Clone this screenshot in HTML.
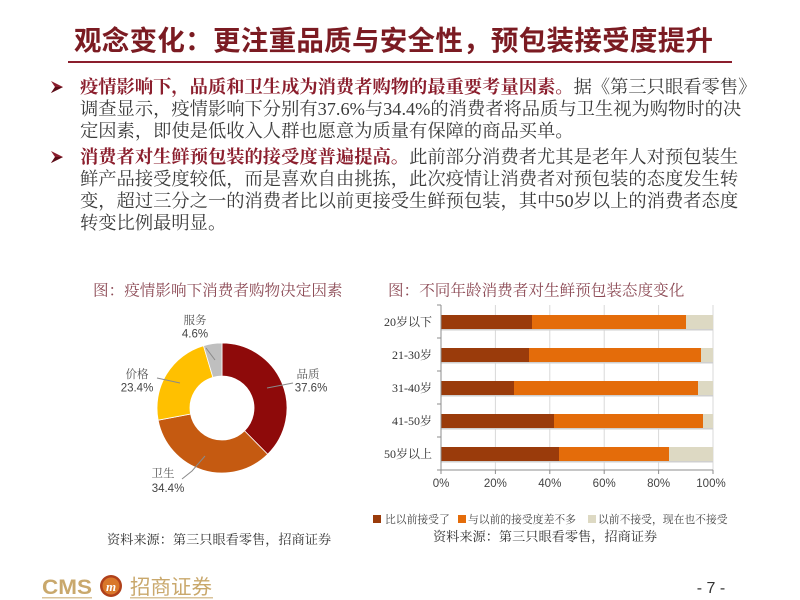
<!DOCTYPE html>
<html><head><meta charset="utf-8">
<style>
html,body{margin:0;padding:0;background:#fff;}
body{width:800px;height:600px;position:relative;overflow:hidden;}
.t{position:absolute;white-space:nowrap;}
.title{left:74px;top:22px;width:639px;font-family:"Liberation Sans","Noto Sans CJK SC",sans-serif;font-weight:bold;font-size:27.5px;line-height:38px;color:#7B1B22;text-align:justify;text-align-last:justify;}
.ln{position:absolute;left:80px;width:648px;height:22px;font-family:"Liberation Serif","Noto Serif CJK SC",serif;font-size:18.3px;line-height:22px;color:#3a3a3a;text-align:justify;text-align-last:justify;white-space:nowrap;}
.ln.last{text-align:left;text-align-last:left;}
.ln b{color:#8B1E2D;font-weight:bold;}
svg .serif{font-family:"Liberation Serif","Noto Serif CJK SC",serif;}
svg .sans{font-family:"Liberation Sans",sans-serif;}
svg .cjksans{font-family:"Liberation Sans","Noto Sans CJK SC",sans-serif;}
</style></head><body>
<div class="t title">观念变化：更注重品质与安全性，预包装接受度提升</div>

<div class="ln" style="top:76px"><b>疫情影响下，品质和卫生成为消费者购物的最重要考量因素。</b>据《第三只眼看零售》</div>
<div class="ln" style="top:98px">调查显示，疫情影响下分别有37.6%与34.4%的消费者将品质与卫生视为购物时的决</div>
<div class="ln last" style="top:120px">定因素，即使是低收入人群也愿意为质量有保障的商品买单。</div>
<div class="ln" style="top:146px"><b>消费者对生鲜预包装的接受度普遍提高。</b>此前部分消费者尤其是老年人对预包装生</div>
<div class="ln" style="top:168px">鲜产品接受度较低，而是喜欢自由挑拣，此次疫情让消费者对预包装的态度发生转</div>
<div class="ln" style="top:190px">变，超过三分之一的消费者比以前更接受生鲜预包装，其中50岁以上的消费者态度</div>
<div class="ln last" style="top:212px">转变比例最明显。</div>

<svg width="800" height="600" style="position:absolute;left:0;top:0" xmlns="http://www.w3.org/2000/svg">
<rect x="68" y="61" width="664" height="2" fill="#8B1E2D"/>
<g fill="#8B1E2D">
<polygon points="51,81 63,87 51,93 55,87"/>
<polygon points="51,151 63,157 51,163 55,157"/>
</g>
<g fill="#5a0e18"><polygon points="55,87 63,87 51,93"/><polygon points="55,157 63,157 51,163"/></g>

<g class="serif" font-size="15.6" fill="#8C4A55">
<text x="93" y="295.5">图：疫情影响下消费者购物决定因素</text>
<text x="388" y="295.5">图：不同年龄消费者对生鲜预包装态度变化</text>
</g>

<g stroke="#fff" stroke-width="0.8">
<path d="M222,343 A65,65 0 0 1 267.66,454.27 L244.48,430.78 A32,32 0 0 0 222,376 Z" fill="#8E0A0A"/>
<path d="M267.66,454.27 A65,65 0 0 1 158.15,420.18 L190.57,414.0 A32,32 0 0 0 244.48,430.78 Z" fill="#C55A11"/>
<path d="M158.15,420.18 A65,65 0 0 1 203.47,345.70 L212.88,377.33 A32,32 0 0 0 190.57,414.0 Z" fill="#FFC000"/>
<path d="M203.47,345.70 A65,65 0 0 1 222,343 L222,376 A32,32 0 0 0 212.88,377.33 Z" fill="#BFBFBF"/>
</g>
<g stroke="#8a8a8a" stroke-width="1" fill="none">
<line x1="206" y1="348" x2="215" y2="360"/>
<line x1="157" y1="378" x2="180" y2="383"/>
<line x1="267" y1="388" x2="293" y2="383"/>
<polyline points="182,479 192,471 205,456"/>
</g>
<g class="serif" font-size="11.5" fill="#555" text-anchor="middle">
<text x="195" y="324">服务</text>
<text x="137" y="378">价格</text>
<text x="308" y="378">品质</text>
<text x="163" y="477">卫生</text>
</g>
<g class="sans" font-size="11.5" fill="#444" text-anchor="middle">
<text x="195" y="337.5">4.6%</text>
<text x="137" y="391.5">23.4%</text>
<text x="311" y="391.5">37.6%</text>
<text x="168" y="492">34.4%</text>
</g>

<g stroke="#d9d9d9" stroke-width="1">
<line x1="495.4" y1="305" x2="495.4" y2="470"/>
<line x1="549.8" y1="305" x2="549.8" y2="470"/>
<line x1="604.2" y1="305" x2="604.2" y2="470"/>
<line x1="658.6" y1="305" x2="658.6" y2="470"/>
<line x1="713" y1="305" x2="713" y2="470"/>
</g>
<g fill="#cfcfcf">
<rect x="441" y="329" width="272" height="1.5"/>
<rect x="441" y="362" width="272" height="1.5"/>
<rect x="441" y="395" width="272" height="1.5"/>
<rect x="441" y="428" width="272" height="1.5"/>
<rect x="441" y="461" width="272" height="1.5"/>
</g>
<g>
<rect x="441" y="315" width="91" height="14" fill="#9A3B0B"/><rect x="532" y="315" width="154" height="14" fill="#E46C0A"/><rect x="686" y="315" width="27" height="14" fill="#DDD9C3"/>
<rect x="441" y="348" width="88" height="14" fill="#9A3B0B"/><rect x="529" y="348" width="172" height="14" fill="#E46C0A"/><rect x="701" y="348" width="12" height="14" fill="#DDD9C3"/>
<rect x="441" y="381" width="73" height="14" fill="#9A3B0B"/><rect x="514" y="381" width="184" height="14" fill="#E46C0A"/><rect x="698" y="381" width="15" height="14" fill="#DDD9C3"/>
<rect x="441" y="414" width="113" height="14" fill="#9A3B0B"/><rect x="554" y="414" width="149" height="14" fill="#E46C0A"/><rect x="703" y="414" width="10" height="14" fill="#DDD9C3"/>
<rect x="441" y="447" width="118" height="14" fill="#9A3B0B"/><rect x="559" y="447" width="110" height="14" fill="#E46C0A"/><rect x="669" y="447" width="44" height="14" fill="#DDD9C3"/>
</g>
<g stroke="#8c8c8c" stroke-width="1">
<line x1="441" y1="305" x2="441" y2="474"/>
<line x1="437" y1="470" x2="713" y2="470"/>
<line x1="437" y1="305" x2="441" y2="305"/>
<line x1="437" y1="338" x2="441" y2="338"/>
<line x1="437" y1="371" x2="441" y2="371"/>
<line x1="437" y1="404" x2="441" y2="404"/>
<line x1="437" y1="437" x2="441" y2="437"/>
<line x1="495.4" y1="470" x2="495.4" y2="474"/>
<line x1="549.8" y1="470" x2="549.8" y2="474"/>
<line x1="604.2" y1="470" x2="604.2" y2="474"/>
<line x1="658.6" y1="470" x2="658.6" y2="474"/>
<line x1="713" y1="470" x2="713" y2="474"/>
</g>
<g class="serif" font-size="12" fill="#333" text-anchor="end">
<text x="432" y="326">20岁以下</text>
<text x="432" y="359">21-30岁</text>
<text x="432" y="392">31-40岁</text>
<text x="432" y="425">41-50岁</text>
<text x="432" y="458">50岁以上</text>
</g>
<g class="sans" font-size="11.5" fill="#444" text-anchor="middle">
<text x="441" y="487">0%</text>
<text x="495.4" y="487">20%</text>
<text x="549.8" y="487">40%</text>
<text x="604.2" y="487">60%</text>
<text x="658.6" y="487">80%</text>
<text x="711" y="487">100%</text>
</g>
<rect x="373" y="515" width="8" height="8" fill="#9A3B0B"/>
<rect x="458" y="515" width="8" height="8" fill="#E46C0A"/>
<rect x="588" y="515" width="8" height="8" fill="#DDD9C3"/>
<g class="serif" font-size="10.8" fill="#444">
<text x="385" y="523">比以前接受了</text>
<text x="468" y="523">与以前的接受度差不多</text>
<text x="598" y="523">以前不接受，现在也不接受</text>
</g>
<g class="serif" font-size="13.2" fill="#333">
<text x="107" y="544">资料来源：第三只眼看零售，招商证券</text>
<text x="433" y="541">资料来源：第三只眼看零售，招商证券</text>
</g>
<text x="42" y="594" class="sans" font-weight="bold" font-size="21" fill="#C9A86C" textLength="50" lengthAdjust="spacingAndGlyphs">CMS</text>
<circle cx="111" cy="586" r="11" fill="#B0401A"/>
<circle cx="111" cy="586" r="8.5" fill="#D9772A"/>
<text x="111" y="591" text-anchor="middle" class="serif" font-style="italic" font-weight="bold" font-size="13" fill="#fff">m</text>
<text x="130" y="594" class="cjksans" font-size="20.5" fill="#C9A86C">招商证券</text>
<rect x="42" y="597" width="50" height="1.5" fill="#D9C39A"/>
<rect x="130" y="597" width="83" height="1.5" fill="#D9C39A"/>
<text x="711" y="593" text-anchor="middle" class="sans" font-size="16" fill="#333">- 7 -</text>
</svg>
</body></html>
